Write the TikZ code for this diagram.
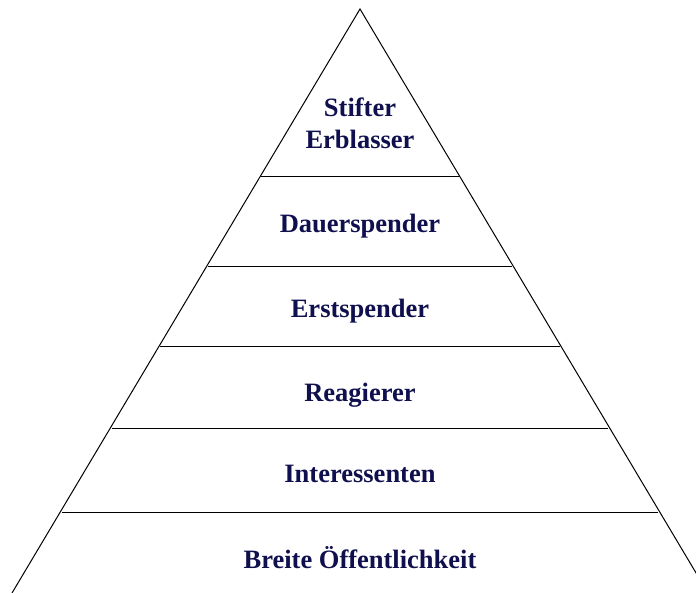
\documentclass[tikz,border=0pt]{standalone}
\usepackage{fontspec}
\setmainfont{Liberation Serif}
\definecolor{navy}{RGB}{16,16,78}
\begin{document}
\begin{tikzpicture}[x=1pt,y=-1pt,
  lbl/.style={font=\bfseries\fontsize{26.5}{32}\selectfont, text=navy, align=center, inner sep=0pt, anchor=base},
  edge/.style={line width=1pt, black}]
\useasboundingbox (0,0) rectangle (696,592);
\begin{scope}
\clip (0,0) rectangle (696,592);
\coordinate (apex) at (360,9);
\coordinate (bl) at (12,593);
\coordinate (br) at (708,593);
\draw[edge] (bl) -- (apex) -- (br);
\foreach \y/\n in {176/a,266/b,346/c,428/d,512/e}{
  \coordinate (L\n) at ({360-0.5925*(\y-9)},\y);
  \coordinate (R\n) at ({360+0.5925*(\y-9)},\y);
  \draw[edge] (L\n) -- (R\n);
}
\end{scope}
\node[lbl] (t1a) at (360,116) {Stifter};
\node[lbl] (t1b) at (360,148) {Erblasser};
\node[lbl] (t2) at (360,232) {Dauerspender};
\node[lbl] (t3) at (360,317) {Erstspender};
\node[lbl] (t4) at (360,401) {Reagierer};
\node[lbl] (t5) at (360,482) {Interessenten};
\node[lbl] (t6) at (360,568) {Breite Öffentlichkeit};
\end{tikzpicture}
\end{document}
